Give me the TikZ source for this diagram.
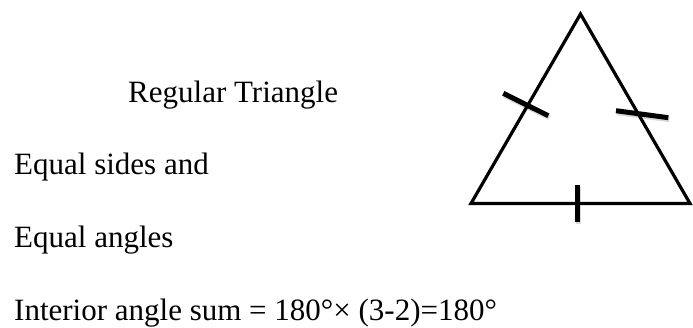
\documentclass[tikz,border=0pt]{standalone}
\usepackage{fontspec}
\setmainfont{Liberation Serif}
\begin{document}
\begin{tikzpicture}[x=1pt,y=-1pt,
  txt/.style={anchor=base west,inner sep=0pt,font=\fontsize{31}{37}\selectfont},
  side/.style={line width=3.2pt,line join=miter},
  tickmark/.style={line width=5pt},
  tickshadow/.style={line width=5pt,black,opacity=0.15}]
\useasboundingbox (0,0) rectangle (693,327);
% texts
\node[txt] (title) at (128,102) {Regular Triangle};
\node[txt] (l1) at (14,174.5) {Equal sides and};
\node[txt] (l2) at (14,247) {Equal angles};
\node[txt] (l3) at (14,320.5) {Interior angle sum = 180°× (3-2)=180°};
% triangle
\coordinate (A) at (580.5,14);
\coordinate (B) at (471,203.5);
\coordinate (C) at (690,203.5);
\draw[side] (B) -- (A) -- (C) -- cycle;
% tick marks
\coordinate (t1a) at (503.3,93.3);
\coordinate (t1b) at (548.3,115.7);
\coordinate (t2a) at (616,110.7);
\coordinate (t2b) at (668.3,117.7);
\coordinate (t3a) at (577,185);
\coordinate (t3b) at (577,222);
\draw[tickshadow] ([shift={(1,2)}]t1a) -- ([shift={(1,2)}]t1b);
\draw[tickshadow] ([shift={(1,2)}]t2a) -- ([shift={(1,2)}]t2b);
\draw[tickshadow] ([shift={(1,2)}]t3a) -- ([shift={(1,2)}]t3b);
\draw[tickmark] (t1a) -- (t1b);
\draw[tickmark] (t2a) -- (t2b);
\draw[tickmark] (t3a) -- (t3b);
\end{tikzpicture}
\end{document}
